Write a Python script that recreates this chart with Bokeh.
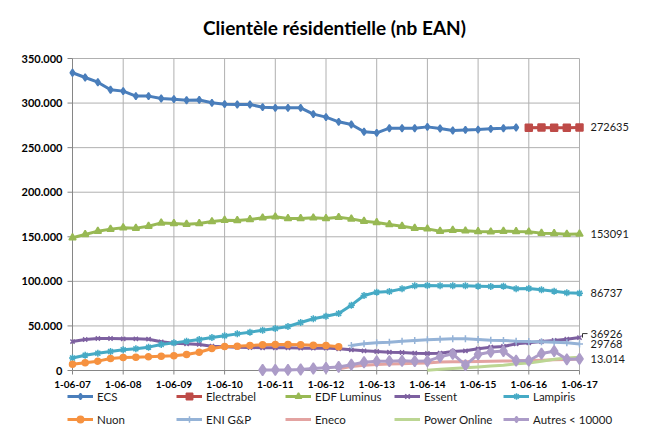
from bokeh.plotting import figure
from bokeh.models import Legend, LegendItem, Range1d
from bokeh.core.properties import value
from bokeh.embed import file_html
from bokeh.resources import INLINE

# ---- data (quarterly observations, 1-06-07 .. 1-06-17) ----
title = "Clientèle résidentielle (nb EAN)"
x_labels = ["1-06-07", "1-06-08", "1-06-09", "1-06-10", "1-06-11", "1-06-12",
            "1-06-13", "1-06-14", "1-06-15", "1-06-16", "1-06-17"]
N = None

ecs = [334000, 328700, 323400, 314900, 313400, 307800, 307800, 305100, 304400, 303200,
       303500, 300300, 298800, 298400, 298400, 295400, 294700, 294700, 294700, 287600,
       284200, 279000, 276000, 267800, 266600, 271800, 271800, 271800, 273300, 271500,
       269200, 269900, 270300, 271100, 271800, 272600, N, N, N, N, N]
electrabel = [N] * 36 + [272400, 272500, 272300, 272400, 272635]
edf = [148900, 152600, 156300, 158600, 160100, 159700, 161900, 165600, 164900, 164100,
       164900, 167100, 168600, 168300, 169400, 171300, 172400, 170500, 170500, 171300,
       170500, 171800, 170100, 167500, 166000, 163800, 161900, 159700, 158900, 156300,
       157400, 156700, 155900, 155600, 156300, 155900, 155600, 154100, 153700, 152900,
       153091]
essent = [32500, 34800, 35900, 35900, 35500, 35500, 35100, 32200, 30700, 29900,
          29200, 27300, 26600, 26200, 25800, 25400, 25400, 25400, 25100, 25100,
          25100, 24300, 23200, 22100, 21300, 20500, 20200, 19400, 19100, 19400,
          21300, 22100, 24300, 26200, 26900, 29900, 31000, 32500, 33700, 35100,
          36926]
lampiris = [14000, 17200, 19400, 21300, 23200, 24300, 26200, 29200, 31000, 32900,
            34800, 37000, 38900, 41100, 43000, 45200, 47100, 49400, 53800, 58000,
            60900, 64000, 73300, 84100, 87900, 88600, 91600, 95000, 95400, 95000,
            95000, 95000, 94600, 94200, 94600, 91600, 92000, 90500, 89000, 87100,
            86737]
nuon = [7000, 8600, 10500, 13500, 14600, 15000, 15300, 16100, 16500, 17900,
        20500, 24700, 26900, 27300, 28000, 28800, 29200, 29200, 28800, 28400,
        28000, 26600] + [N] * 19
eni = [N] * 22 + [28000, 29900, 31000, 31800, 32900, 33700, 34400, 35100, 35500, 35500,
                  34800, 34000, 33700, 32900, 32500, 32200, 31800, 31000, 29768]
eneco = [N] * 21 + [2000, 4500, 5900, 6700, 7300, 7700, 8100, 8500, 9500, 9700,
                    9800, 10100, 10400, 10600, 10800, 11200, 11600, 12000, 12400, 12800]
power_online = [N] * 28 + [300, 1300, 2200, 3000, 4000, 5000, 6000, 7500, 8500, 10500,
                           12500, 14000, 15000]
autres = [N] * 15 + [600, 700, 700, 1100, 2200, 3000, 4000, 6500, 9300, 10300,
                     10500, 10800, 10500, 10600, 15300, 18700, 6000, 18000, 20800, 21800,
                     11000, 11000, 19000, 21700, 12500, 13014]

y_ticks = [0, 50000, 100000, 150000, 200000, 250000, 300000, 350000]
y_tick_labels = ["0", "50.000", "100.000", "150.000", "200.000", "250.000", "300.000", "350.000"]

# name, values, color, marker, marker size, line width
series = [
    ("ECS", ecs, "#4A7EBB", "diamond", 7, 3),
    ("Electrabel", electrabel, "#BE4B48", "square", 7, 3),
    ("EDF Luminus", edf, "#98B954", "triangle", 7, 3),
    ("Essent", essent, "#7D60A0", "x", 6, 3),
    ("Lampiris", lampiris, "#46AAC5", "asterisk", 7, 3),
    ("Nuon", nuon, "#F69240", "circle", 6, 3),
    ("ENI G&P", eni, "#95B3D7", "cross", 7, 3),
    ("Eneco", eneco, "#E3A3A1", None, 0, 3),
    ("Power Online", power_online, "#BCD693", None, 0, 3),
    ("Autres < 10000", autres, "#AC9CC8", "diamond", 11, 3),
]

# end-of-series value labels: (value, text, raise in px to avoid overlap)
end_labels = [
    (electrabel[-1], "272635", 0),
    (edf[-1], "153091", 0),
    (lampiris[-1], "86737", 0),
    (essent[-1], "36926", 4),
    (eni[-1], "29768", 0),
    (autres[-1], "13.014", 0),
]

# ---- layout constants (pixels) ----
FONT = "Lato"
W, H = 662, 436
PLOT_L, PLOT_R, PLOT_T, PLOT_B = 72, 579, 58, 370
GRID_C = "#B0B0B0"
AXIS_C = "#868686"

n = len(ecs)
xs = list(range(n))
tick_pos = [i * 4 for i in range(len(x_labels))]
Y_MAX = y_ticks[-1]
X_MAX = n - 1
px_x = (PLOT_R - PLOT_L) / X_MAX          # px per quarter
px_y = Y_MAX / (PLOT_B - PLOT_T)          # data units per px

x_view = (-PLOT_L / px_x, X_MAX + (W - PLOT_R) / px_x)
y_view = (-(H - PLOT_B) * px_y, Y_MAX + PLOT_T * px_y)

p = figure(width=W, height=H, output_backend="svg", toolbar_location=None,
           x_range=Range1d(*x_view), y_range=Range1d(*y_view),
           x_axis_type=None, y_axis_type=None, title=None,
           min_border_left=0, min_border_right=0, min_border_top=0, min_border_bottom=0)
p.styles = {"outline": "1px solid #8c8c8c", "outline-offset": "-3px"}
p.outline_line_color = None
p.background_fill_color = "white"
p.xgrid.visible = False
p.ygrid.visible = False

nx, ny = len(tick_pos), len(y_ticks)
# grid lines limited to the plotting area
p.segment(x0=tick_pos, x1=tick_pos, y0=[0] * nx, y1=[Y_MAX] * nx,
          line_color=GRID_C, line_width=1)
p.segment(x0=[0] * (ny - 1), x1=[X_MAX] * (ny - 1),
          y0=y_ticks[1:], y1=y_ticks[1:], line_color=GRID_C, line_width=1)

# axes: lines, tick marks and labels
p.segment(x0=[0, 0], x1=[X_MAX, 0], y0=[0, 0], y1=[0, Y_MAX], line_color=AXIS_C, line_width=1)
p.segment(x0=tick_pos, x1=tick_pos, y0=[0] * nx, y1=[-4 * px_y] * nx,
          line_color=AXIS_C, line_width=1)
p.segment(x0=[-5 / px_x] * ny, x1=[0] * ny, y0=y_ticks, y1=y_ticks,
          line_color=AXIS_C, line_width=1)
p.text(x=tick_pos, y=[-14 * px_y] * nx, text=x_labels,
       text_font=value(FONT), text_font_style="bold", text_font_size="10px",
       text_align="center", text_baseline="middle", text_color="#000000")
p.text(x=[-10 / px_x] * ny, y=y_ticks, text=y_tick_labels,
       text_font=value(FONT), text_font_style="bold", text_font_size="11px",
       text_align="right", text_baseline="middle", text_color="#000000")

# title
p.text(x=[(334 - PLOT_L) / px_x], y=[Y_MAX + (PLOT_T - 27) * px_y], text=[title],
       text_font=value(FONT), text_font_style="bold", text_font_size="19px",
       text_align="center", text_baseline="middle", text_color="#000000")

items = []
for name, vals, color, marker, msize, lw in series:
    yv = [float("nan") if v is None else v for v in vals]
    rs = [p.line(xs, yv, line_color=color, line_width=lw)]
    if marker:
        rs.append(p.scatter(xs, yv, marker=marker, size=msize, fill_color=color,
                            line_color=color, line_width=1.5))
    items.append(LegendItem(label=name, renderers=rs))

# value labels at the right end of the series
lab_x = X_MAX + 11 / px_x
p.text(x=[lab_x] * len(end_labels),
       y=[v + dy * px_y for v, _, dy in end_labels],
       text=[t for _, t, _ in end_labels],
       text_font=value(FONT), text_font_size="11px", text_align="left",
       text_baseline="middle", text_color="#1a1a1a")
# small leader line for the raised label
raised = [(v, dy) for v, _, dy in end_labels if dy]
for v, dy in raised:
    p.line(x=[X_MAX + 3 / px_x, X_MAX + 3 / px_x, X_MAX + 8 / px_x],
           y=[v, v + dy * px_y, v + dy * px_y], line_color="#333333", line_width=1)

legend = Legend(items=items, ncols=5, orientation="horizontal", location=(67, 9),
                glyph_width=26, glyph_height=16, label_height=16, label_width=72,
                label_standoff=4, spacing=7, padding=0, margin=0,
                label_text_font=FONT, label_text_font_size="11.5px",
                label_text_color="#1a1a1a", border_line_color=None,
                background_fill_alpha=0)
p.add_layout(legend)

open("out.html", "w").write(file_html(p, INLINE))
